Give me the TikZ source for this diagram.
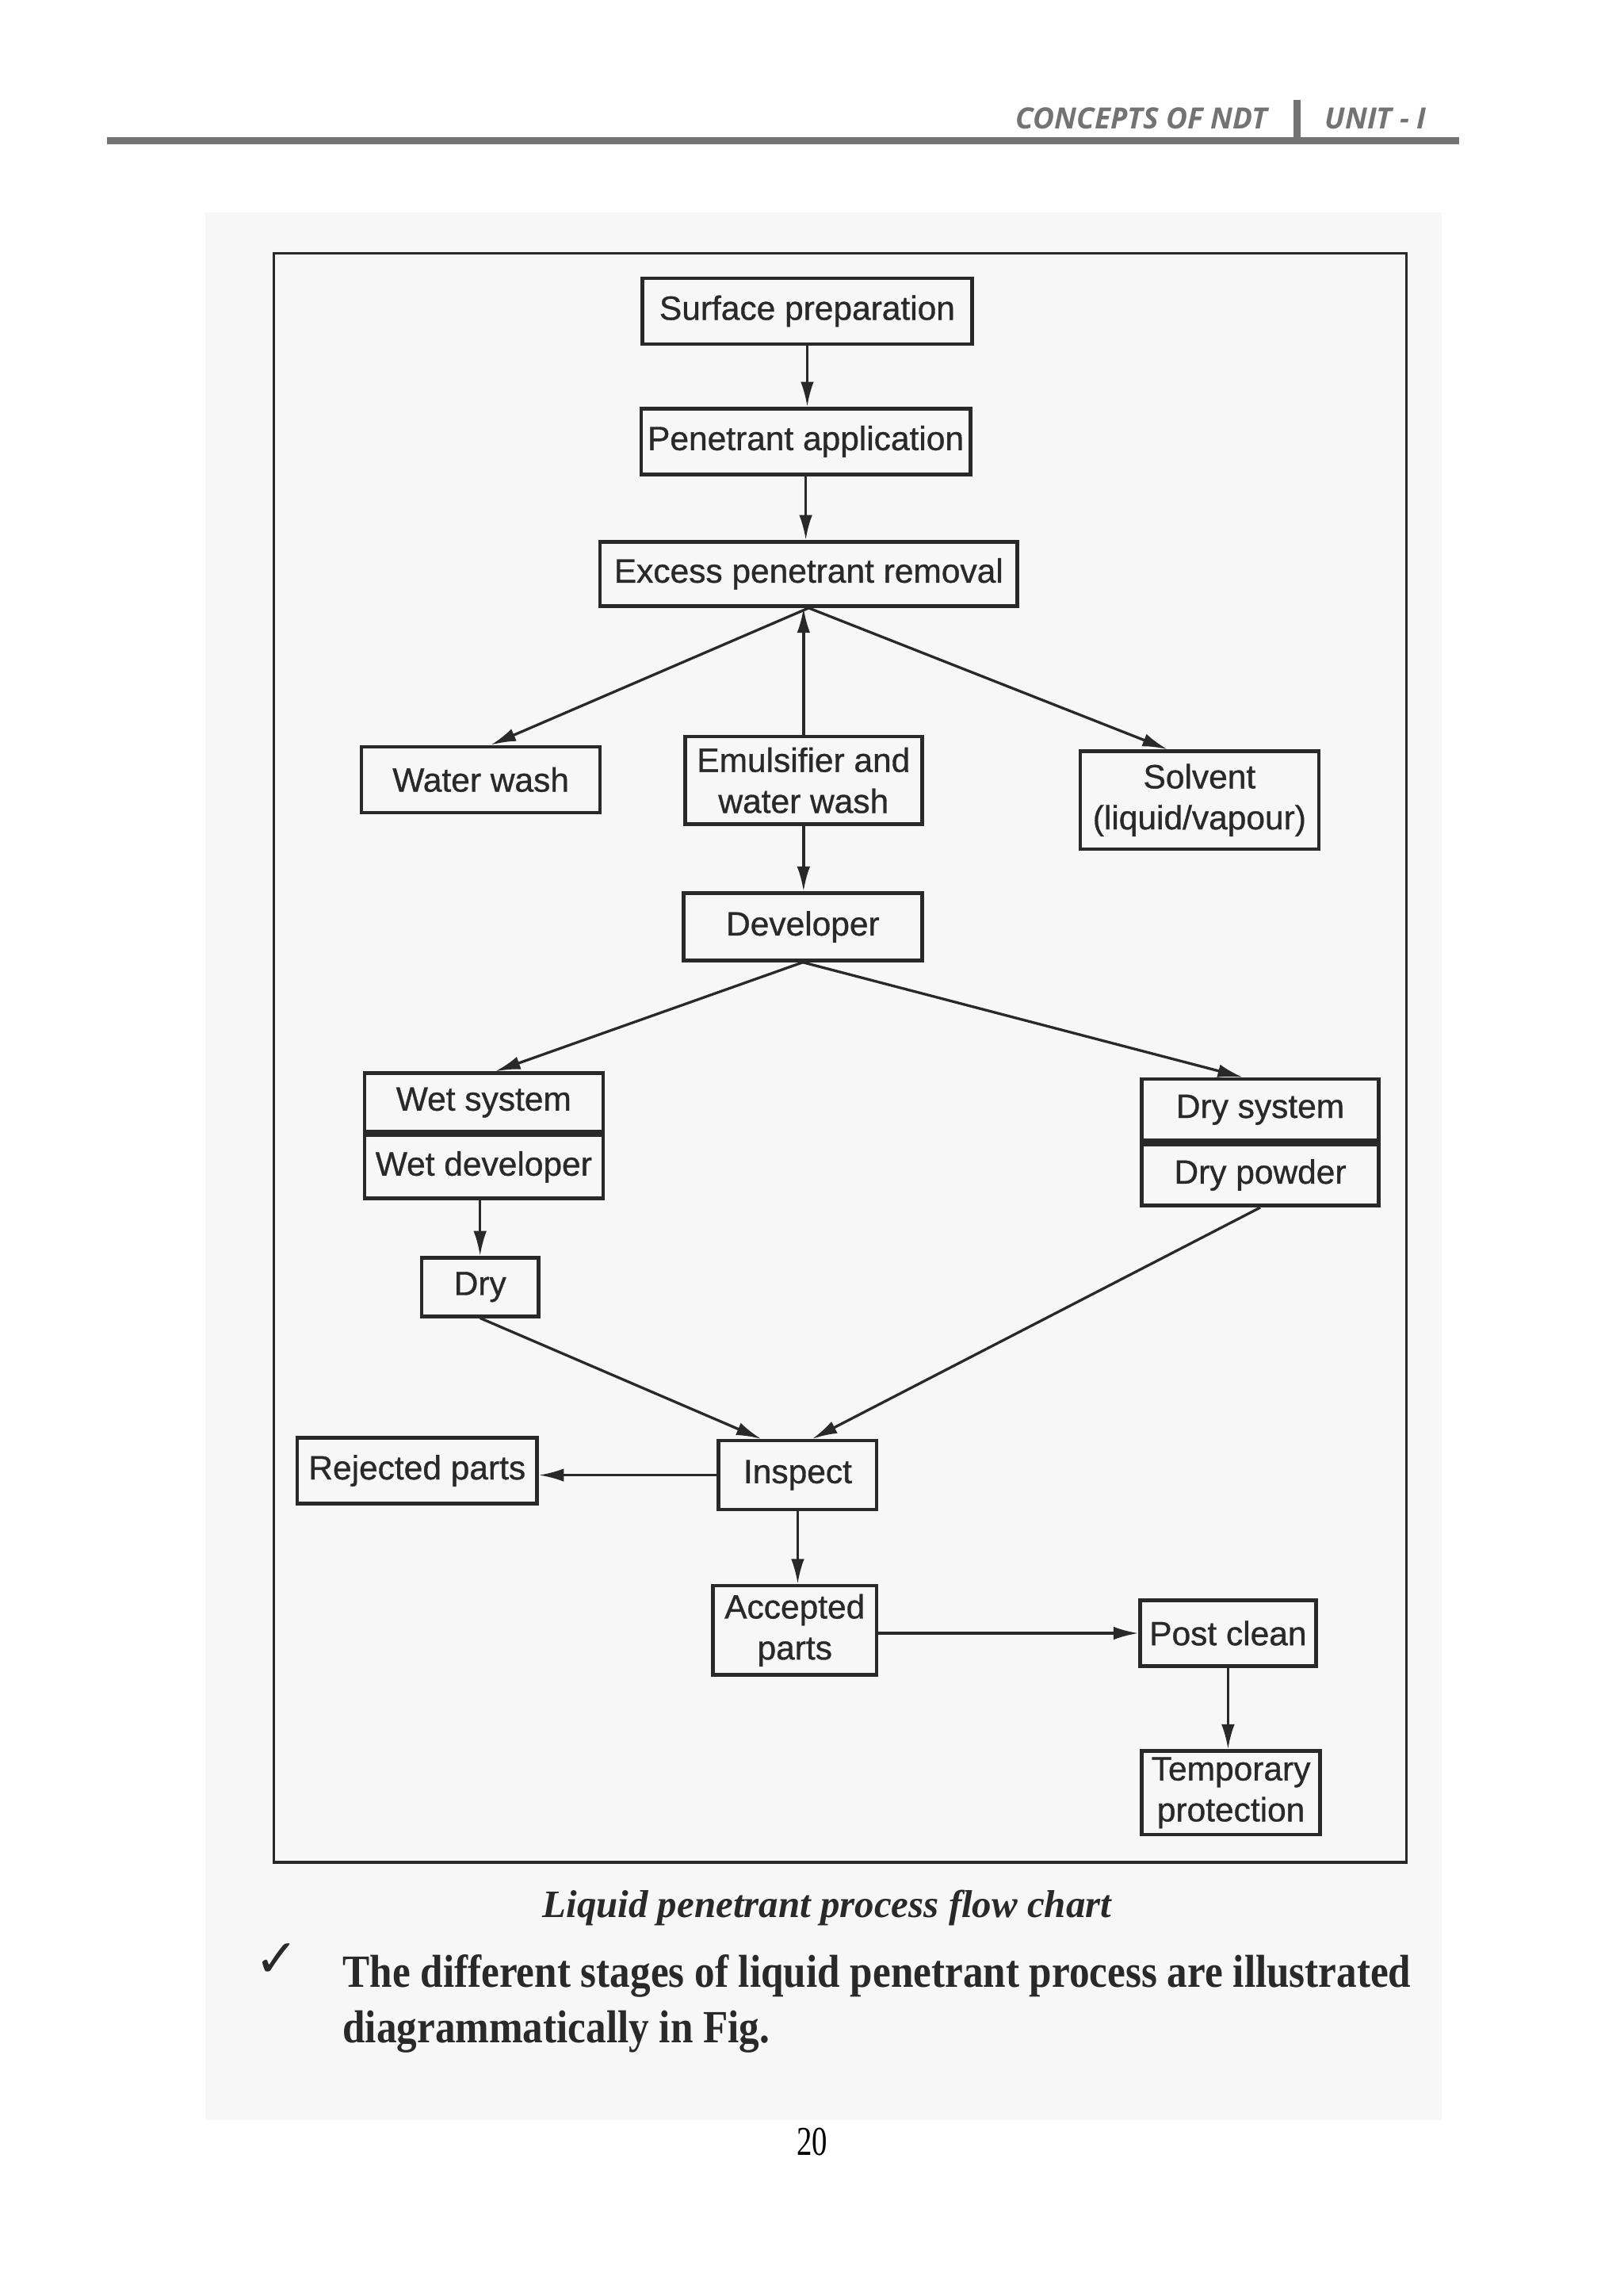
\documentclass[tikz,border=0pt]{standalone}
\usepackage{fontspec}
\setmainfont{Liberation Serif}
\newfontfamily\boxfont[FakeBold=0.8]{Liberation Sans}
\newfontfamily\headfont{Open Sans}
\newfontfamily\bodyfont[FakeStretch=0.88]{Liberation Serif}
\newfontfamily\numfont[FakeStretch=0.75]{Liberation Serif}
\newfontfamily\symfont{DejaVu Sans}
\usetikzlibrary{arrows.meta,calc}
\definecolor{ink}{gray}{0.16}
\definecolor{headgray}{gray}{0.45}
\begin{document}
\begin{tikzpicture}[x=1pt,y=-1pt,
  box/.style={draw=ink,line width=2.5pt,inner sep=0pt,align=center,
    font=\boxfont\fontsize{23}{28}\selectfont,text=ink},
  conn/.style={draw=ink,line width=1.8pt,-{Latex[length=17pt,width=9pt]}},
  headtext/.style={font=\headfont\itshape\bfseries\fontsize{20}{20}\selectfont,text=headgray,inner sep=0pt},
]
\useasboundingbox (0,0) rectangle (1109,1568.2);
\fill[white] (0,0) rectangle (1109,1568.2);
\fill[black!3] (140,145) rectangle (985,1448);

% header
\node[headtext,anchor=base east] (h1) at (866,88) {CONCEPTS OF NDT};
\node[headtext,anchor=base west] (h2) at (905,88) {UNIT - I};
\draw[headgray,line width=5pt] (73,96) -- (997,96);
\draw[headgray,line width=5pt] (886,68) -- (886,96);

% frame
\draw[ink,line width=1.8pt] (187,173) rectangle (961,1272);

% boxes
\node[box,minimum width=225pt,minimum height=45pt] (sp) at (551.5,212.5) {Surface preparation};
\node[box,minimum width=225pt,minimum height=45pt] (pa) at (550.5,301.5) {Penetrant application};
\node[box,minimum width=285pt,minimum height=44pt] (ep) at (552.5,392) {Excess penetrant removal};
\node[box,minimum width=163pt,minimum height=45pt] (ww) at (328.5,532.5) {Water wash};
\node[box,minimum width=162pt,minimum height=60pt] (em) at (549,533) {Emulsifier and\\water wash};
\node[box,minimum width=163pt,minimum height=67pt] (sv) at (819.5,546.5) {Solvent\\(liquid/vapour)};
\node[box,minimum width=163pt,minimum height=46pt] (dv) at (548.5,633) {Developer};
\node[box,minimum width=163pt,minimum height=40pt] (ws) at (330.5,753) {Wet system};
\node[box,minimum width=163pt,minimum height=43pt,anchor=north] (wd) at (ws.south) {Wet developer};
\node[box,minimum width=162pt,minimum height=42pt] (ds) at (861,758) {Dry system};
\node[box,minimum width=162pt,minimum height=42pt,anchor=north] (dp) at (ds.south) {Dry powder};
\node[box,minimum width=80pt,minimum height=40pt] (dry) at (328,879) {Dry};
\node[box,minimum width=164pt,minimum height=45pt] (rj) at (285,1004.5) {Rejected parts};
\node[box,minimum width=108pt,minimum height=47pt] (in) at (545,1007.5) {Inspect};
\node[box,minimum width=112pt,minimum height=61pt] (ac) at (543,1113.5) {Accepted\\parts};
\node[box,minimum width=120pt,minimum height=45pt] (pc) at (839,1115.5) {Post clean};
\node[box,minimum width=122pt,minimum height=57pt] (tp) at (841,1224.5) {Temporary\\protection};

% connectors
\draw[conn] (sp.south) -- (sp.south |- pa.north);
\draw[conn] (pa.south) -- (pa.south |- ep.north);
\draw[conn] (ep.south) -- ($(ww.north)+(7,0)$);
\draw[conn] (ep.south) -- ($(sv.north)+(-22,0)$);
\draw[conn] (em.north) -- (em.north |- ep.south);
\draw[conn] (em.south) -- (em.south |- dv.north);
\draw[conn] (dv.south) -- ($(ws.north)+(8,0)$);
\draw[conn] (dv.south) -- ($(ds.north)+(-12,0)$);
\draw[conn] (dry.north |- wd.south) -- (dry.north);
\draw[conn] (dry.south) -- ($(in.north)+(-25,0)$);
\draw[conn] (dp.south) -- ($(in.north)+(10,0)$);
\draw[conn] (in.west) -- (in.west -| rj.east);
\draw[conn] (in.south) -- (in.south |- ac.north);
\draw[conn] (ac.east |- pc.west) -- (pc.west);
\draw[conn] (pc.south) -- (pc.south |- tp.north);

% caption and text
\node[font=\bfseries\itshape\fontsize{26.5}{26.5}\selectfont,text=ink,inner sep=0pt] (cap) at (565,1303) {Liquid penetrant process flow chart};
\node[font=\symfont\bfseries\fontsize{36}{36}\selectfont,text=ink,inner sep=0pt] (chk) at (189,1339) {✓};
\node[anchor=base west,font=\bodyfont\bfseries\fontsize{31.5}{38}\selectfont,text=ink,inner sep=0pt] (b1) at (234,1357) {The different stages of liquid penetrant process are illustrated};
\node[anchor=base west,font=\bodyfont\bfseries\fontsize{31.5}{38}\selectfont,text=ink,inner sep=0pt] (b2) at (234,1395) {diagrammatically in Fig.};
\node[font=\numfont\fontsize{28}{28}\selectfont,text=black,inner sep=0pt] (pg) at (555,1463) {20};
\end{tikzpicture}
\end{document}
